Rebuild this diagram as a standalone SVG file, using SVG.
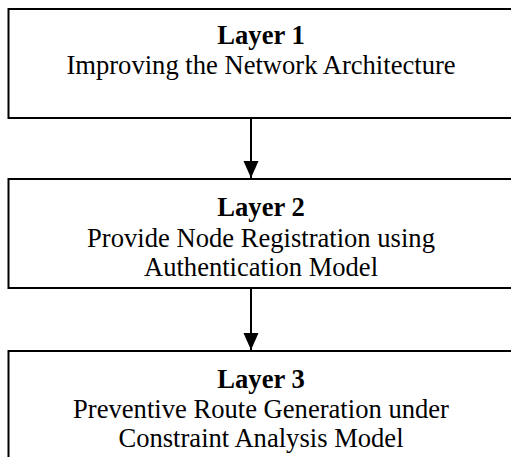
<svg xmlns="http://www.w3.org/2000/svg" width="511" height="457" viewBox="0 0 511 457">
<style>
.box{fill:#fff;stroke:#000;stroke-width:2}
.t{font-family:"Liberation Serif","Times New Roman",serif;font-size:26.6px;fill:#000;text-anchor:middle}
.b{font-weight:bold}
.c{stroke:#000;stroke-width:2;fill:none}
</style>
<defs>
<marker id="ah" markerUnits="userSpaceOnUse" markerWidth="18" markerHeight="16" refX="17" refY="7.5" orient="auto">
<path d="M0,0 L17,7.5 L0,15 Z" fill="#000"/>
</marker>
</defs>
<rect width="511" height="457" fill="#fff"/>
<g id="layer1">
<rect class="box" x="8.5" y="9" width="506" height="109"/>
<text class="t b" x="261" y="44">Layer 1</text>
<text class="t" x="261" y="74">Improving the Network Architecture</text>
</g>
<g id="layer2">
<rect class="box" x="8.5" y="179" width="506" height="109"/>
<text class="t b" x="261" y="216">Layer 2</text>
<text class="t" x="261" y="246.5">Provide Node Registration using</text>
<text class="t" x="261" y="275.5">Authentication Model</text>
</g>
<g id="layer3">
<rect class="box" x="8.5" y="351" width="506" height="120"/>
<text class="t b" x="261" y="387.5">Layer 3</text>
<text class="t" x="261" y="417.5">Preventive Route Generation under</text>
<text class="t" x="261" y="447">Constraint Analysis Model</text>
</g>
<g id="connectors">
<line class="c" x1="251" y1="119" x2="251" y2="178" marker-end="url(#ah)"/>
<line class="c" x1="251" y1="289" x2="251" y2="350" marker-end="url(#ah)"/>
</g>
</svg>
